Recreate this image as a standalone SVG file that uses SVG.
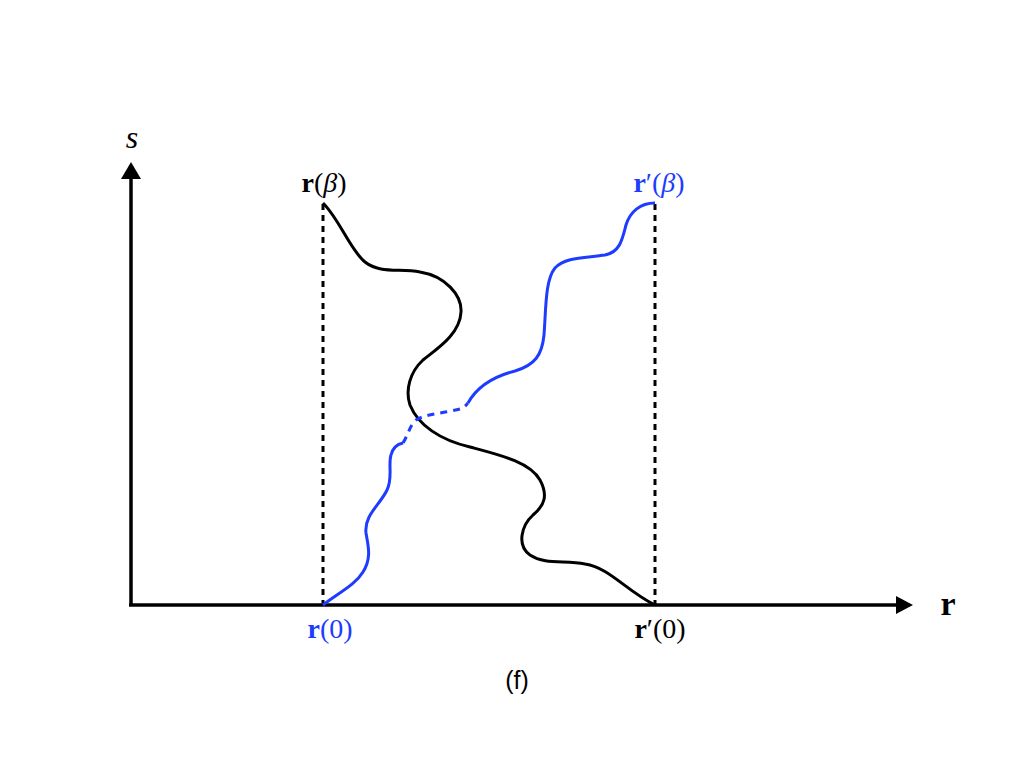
<svg xmlns="http://www.w3.org/2000/svg" width="1024" height="768" viewBox="0 0 1024 768">
<style>
.ax{stroke:#000;stroke-width:3.5;fill:none}
.dot{stroke:#000;stroke-width:3;fill:none;stroke-dasharray:6 5}
.bk{stroke:#000;stroke-width:3;fill:none}
.bl{stroke:#1e3cff;stroke-width:3;fill:none}
.bld{stroke:#1e3cff;stroke-width:3;fill:none;stroke-dasharray:7 6}
.lbl{font-family:"Liberation Serif",serif;font-size:28px;text-anchor:middle}
.blue{fill:#1e3cff}
</style>
<rect width="1024" height="768" fill="#fff"/>
<g id="connectors">
<line class="ax" x1="131" y1="606" x2="131" y2="176"/>
<path d="M121,179 L131,162 L141,179 Z" fill="#000"/>
<line class="ax" x1="129" y1="605" x2="898" y2="605"/>
<path d="M896,596 L913,605 L896,614 Z" fill="#000"/>
<line class="dot" x1="323" y1="204" x2="323" y2="605"/>
<line class="dot" x1="655" y1="204" x2="655" y2="605"/>
</g>
<g id="black-path">
<path class="bk" d="M323,203 C340,220 350,250 365,262 C380,274 400,268 420,272 C445,276 462,295 461,312 C460,335 435,350 423,360 C410,372 405,390 410,405 C418,425 440,440 470,447 C500,455 530,462 540,480 C548,495 545,505 533,515 C522,525 516,545 530,555 C545,565 565,560 585,564 C610,568 625,590 655,605"/>
</g>
<g id="blue-path">
<path class="bl" d="M323,605 C340,592 355,585 363,572 C372,558 368,545 366,533 C364,515 380,505 387,490 C393,478 388,465 391,455 C393,447 398,444 403,443"/>
<path class="bld" d="M403,443 C408,435 410,425 416,420 C425,414 445,413 460,409 C465,407 466,405 468,403"/>
<path class="bl" d="M468,403 C478,385 495,376 515,371 C535,365 542,355 544,335 C546,310 545,280 555,268 C565,257 585,258 605,255 C620,252 622,240 626,225 C630,212 640,203 655,203"/>
</g>
<g id="labels">
<text x="132" y="148" font-family="Liberation Serif,serif" font-size="32" font-style="italic" text-anchor="middle">s</text>
<text x="948" y="615" font-family="Liberation Serif,serif" font-size="34" font-weight="bold" text-anchor="middle">r</text>
<text class="lbl" x="324" y="192"><tspan font-weight="bold">r</tspan>(<tspan font-style="italic">β</tspan>)</text>
<text class="lbl blue" x="659" y="192"><tspan font-weight="bold">r</tspan>′(<tspan font-style="italic">β</tspan>)</text>
<text class="lbl blue" x="330" y="638"><tspan font-weight="bold">r</tspan>(0)</text>
<text class="lbl" x="660" y="638"><tspan font-weight="bold">r</tspan>′(0)</text>
<text x="517" y="689" font-family="Liberation Sans,sans-serif" font-size="25" text-anchor="middle">(f)</text>
</g>
</svg>
